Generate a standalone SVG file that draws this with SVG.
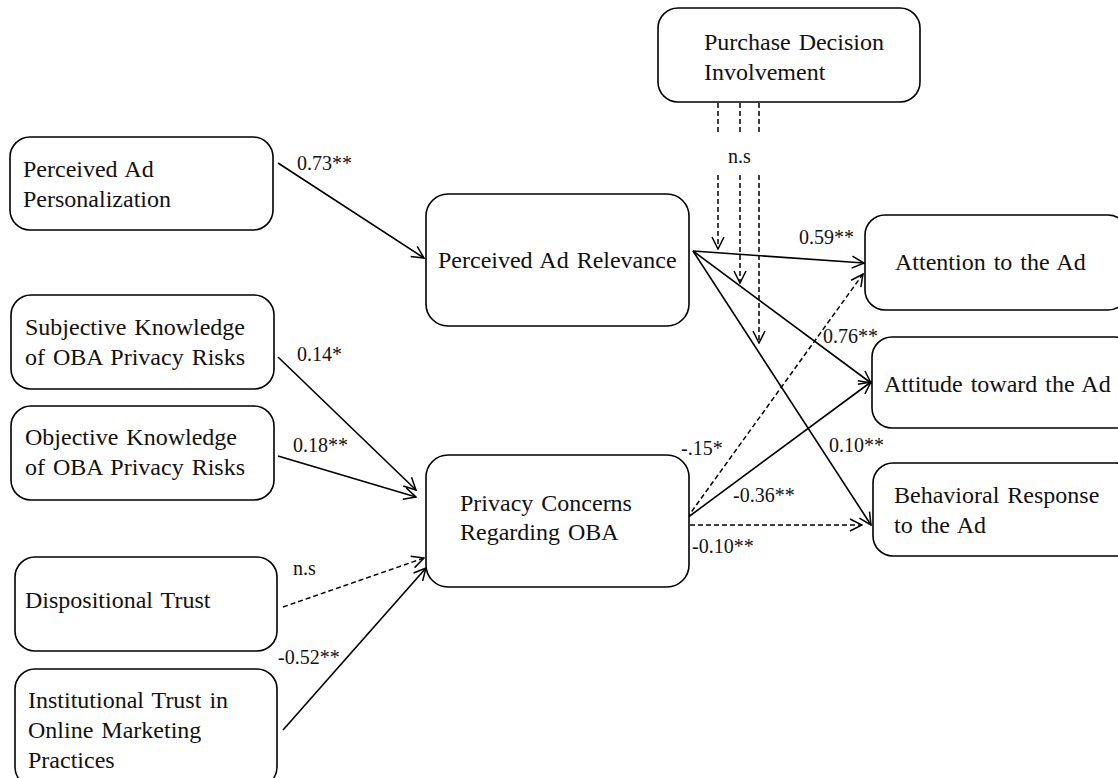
<svg xmlns="http://www.w3.org/2000/svg" width="1118" height="778" viewBox="0 0 1118 778">
<style>
.box{fill:#fff;stroke:#000;stroke-width:1.6}
.t{font-size:24px;fill:#111;word-spacing:2px}
.l{font-size:20px;fill:#111}
.c{fill:none;stroke:#000;stroke-width:1.6}
.d{fill:none;stroke:#000;stroke-width:1.5;stroke-dasharray:5 3}
</style>
<defs>
<marker id="ah" viewBox="0 0 14 14" refX="13" refY="7" markerWidth="14" markerHeight="14" markerUnits="userSpaceOnUse" orient="auto">
<path d="M1,1 L13,7 L1,13" fill="none" stroke="#000" stroke-width="1.5"/>
</marker>
</defs>
<rect width="1118" height="778" fill="#fff"/>
<g font-family="'Liberation Serif', 'DejaVu Serif', serif">
<g id="connectors">
<path class="c" d="M278,163 L424,258" marker-end="url(#ah)"/>
<path class="c" d="M278,357 L416,490" marker-end="url(#ah)"/>
<path class="c" d="M278,456 L416,497" marker-end="url(#ah)"/>
<path class="d" d="M283,607 L424,558" marker-end="url(#ah)"/>
<path class="c" d="M283,730 L426,568" marker-end="url(#ah)"/>
<path class="c" d="M693,251 L864,263" marker-end="url(#ah)"/>
<path class="c" d="M693,251 L871,383" marker-end="url(#ah)"/>
<path class="c" d="M693,251 L871,525" marker-end="url(#ah)"/>
<path class="d" d="M687,518 L863,274" marker-end="url(#ah)"/>
<path class="c" d="M687,518 L871,382" marker-end="url(#ah)"/>
<path class="d" d="M690,525 L862,525" marker-end="url(#ah)"/>
<path class="d" d="M718,103 L718,135"/>
<path class="d" d="M740,103 L740,135"/>
<path class="d" d="M759,103 L759,135"/>
<path class="d" d="M718,175 L718,249" marker-end="url(#ah)"/>
<path class="d" d="M740,175 L740,283" marker-end="url(#ah)"/>
<path class="d" d="M759,175 L759,343" marker-end="url(#ah)"/>
<text class="l" x="297" y="170">0.73**</text>
<text class="l" x="297" y="361">0.14*</text>
<text class="l" x="293" y="452">0.18**</text>
<text class="l" x="293" y="575">n.s</text>
<text class="l" x="278" y="664">-0.52**</text>
<text class="l" x="728" y="163">n.s</text>
<text class="l" x="799" y="244">0.59**</text>
<text class="l" x="823" y="343">0.76**</text>
<text class="l" x="829" y="452">0.10**</text>
<text class="l" x="681" y="455">-.15*</text>
<text class="l" x="733" y="502">-0.36**</text>
<text class="l" x="692" y="553">-0.10**</text>
</g>
<g id="n-purchase">
<rect class="box" x="658" y="8" width="262" height="94" rx="20"/>
<text class="t" x="704" y="50">Purchase Decision</text>
<text class="t" x="704" y="80">Involvement</text>
</g>
<g id="n-personalization">
<rect class="box" x="10" y="137" width="263" height="93" rx="20"/>
<text class="t" x="23" y="177">Perceived Ad</text>
<text class="t" x="23" y="207">Personalization</text>
</g>
<g id="n-relevance">
<rect class="box" x="426" y="194" width="263" height="132" rx="22"/>
<text class="t" x="438" y="268">Perceived Ad Relevance</text>
</g>
<g id="n-subjective">
<rect class="box" x="11" y="295" width="263" height="94" rx="20"/>
<text class="t" x="25" y="335">Subjective Knowledge</text>
<text class="t" x="25" y="365">of OBA Privacy Risks</text>
</g>
<g id="n-objective">
<rect class="box" x="11" y="406" width="263" height="94" rx="20"/>
<text class="t" x="25" y="445">Objective Knowledge</text>
<text class="t" x="25" y="475">of OBA Privacy Risks</text>
</g>
<g id="n-dispositional">
<rect class="box" x="15" y="557" width="262" height="94" rx="20"/>
<text class="t" x="25" y="608">Dispositional Trust</text>
</g>
<g id="n-institutional">
<rect class="box" x="15" y="669" width="262" height="118" rx="20"/>
<text class="t" x="28" y="708">Institutional Trust in</text>
<text class="t" x="28" y="738">Online Marketing</text>
<text class="t" x="28" y="768">Practices</text>
</g>
<g id="n-privacy">
<rect class="box" x="426" y="455" width="263" height="132" rx="22"/>
<text class="t" x="460" y="511">Privacy Concerns</text>
<text class="t" x="460" y="540">Regarding OBA</text>
</g>
<g id="n-attention">
<rect class="box" x="865" y="215" width="263" height="95" rx="20"/>
<text class="t" x="895" y="270">Attention to the Ad</text>
</g>
<g id="n-attitude">
<rect class="box" x="872" y="337" width="263" height="91" rx="20"/>
<text class="t" x="884" y="392">Attitude toward the Ad</text>
</g>
<g id="n-behavioral">
<rect class="box" x="873" y="463" width="263" height="93" rx="20"/>
<text class="t" x="894" y="503">Behavioral Response</text>
<text class="t" x="894" y="533">to the Ad</text>
</g>
</g>
</svg>
